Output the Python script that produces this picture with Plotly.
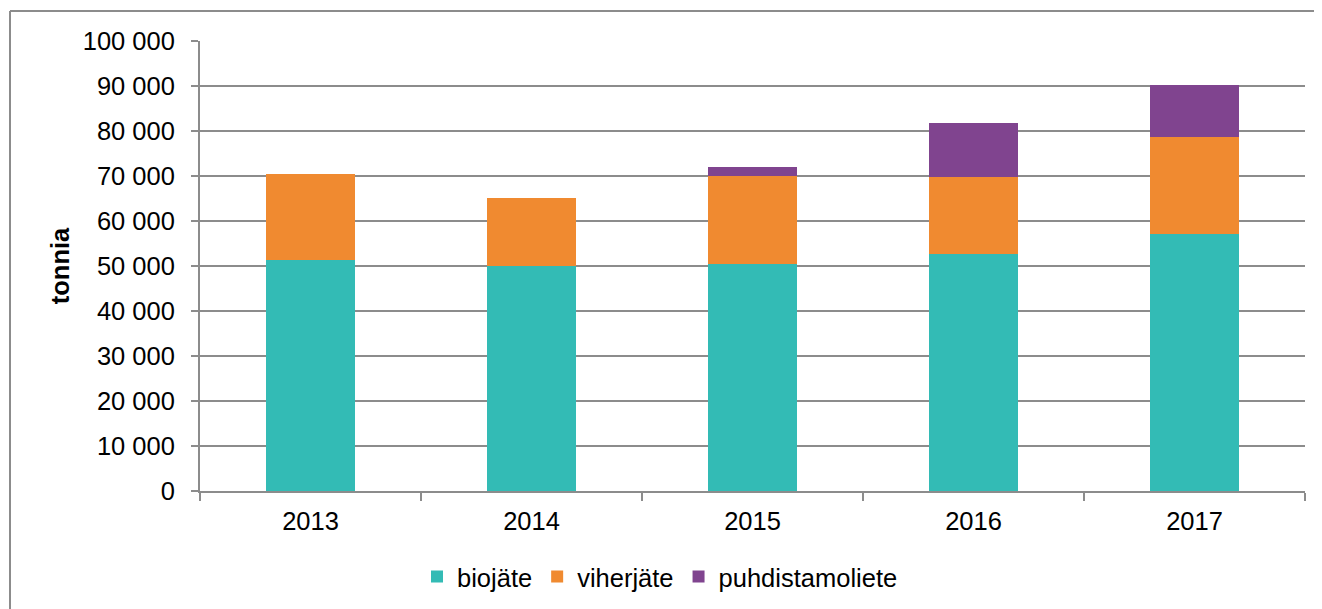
import plotly.graph_objects as go

years = ["2013", "2014", "2015", "2016", "2017"]
biojate = [51300, 50100, 50500, 52700, 57200]
viherjate = [19200, 15000, 19600, 17000, 21500]
puhdistamoliete = [0, 0, 2000, 12100, 11600]

y_ticks = [0, 10000, 20000, 30000, 40000, 50000, 60000, 70000, 80000, 90000, 100000]
y_tick_text = ["0", "10 000", "20 000", "30 000", "40 000", "50 000", "60 000",
               "70 000", "80 000", "90 000", "100 000"]

colors = {"biojäte": "#33BBB5", "viherjäte": "#F08A30", "puhdistamoliete": "#80448F"}

fig = go.Figure()
for name, vals in [("biojäte", biojate), ("viherjäte", viherjate), ("puhdistamoliete", puhdistamoliete)]:
    fig.add_trace(go.Bar(x=years, y=vals, name=name, marker_color=colors[name],
                         marker_line_width=0, width=0.4))

# page body has an 8px margin; screen-space plot area: x 200..1305, y 41..491
OFF = 8
W, H = 1322 - OFF, 609 - OFF
PX0, PX1, PY0, PY1 = 200, 1305, 41, 491
L, T = PX0 - OFF, PY0 - OFF
R = 1322 - PX1
B = 609 - PY1
pw, ph = PX1 - PX0, PY1 - PY0
FS = 25.5

fig.update_layout(
    barmode="stack",
    width=W, height=H,
    margin=dict(l=L, r=R, t=T, b=B, autoexpand=False),
    paper_bgcolor="white", plot_bgcolor="white",
    font=dict(family="Liberation Sans, Arial, sans-serif", size=FS, color="#000000"),
    legend=dict(orientation="h", x=(660 - PX0) / pw, xanchor="center",
                y=(PY1 - 577) / ph, yanchor="middle",
                font=dict(size=FS), itemwidth=30, traceorder="normal"),
    showlegend=True,
)
fig.update_xaxes(
    type="category", tickson="boundaries", ticks="outside", ticklen=8, tickwidth=2,
    tickcolor="#8C8C8C", showline=True, linecolor="#8C8C8C", linewidth=2,
    showgrid=False, tickfont=dict(size=FS), ticklabelstandoff=6,
)
fig.update_yaxes(
    range=[0, 100000], tickmode="array", tickvals=y_ticks, ticktext=y_tick_text,
    ticks="outside", ticklen=7, tickwidth=2, tickcolor="#8C8C8C",
    showline=True, linecolor="#8C8C8C", linewidth=2,
    showgrid=True, gridcolor="#8C8C8C", gridwidth=2, zeroline=False,
    tickfont=dict(size=FS), ticklabelstandoff=11,
    title=dict(text="<b>tonnia</b>", font=dict(size=FS), standoff=6),
)
# outer chart border: only the left and top edges are visible in the reference
border = dict(color="#8C8C8C", width=2)
fig.add_shape(type="line", xref="paper", yref="paper",
              x0=(10 - PX0) / pw, x1=(10 - PX0) / pw,
              y0=(PY1 - 640) / ph, y1=(PY1 - 11) / ph, line=border, layer="below")
fig.add_shape(type="line", xref="paper", yref="paper",
              x0=(10 - PX0) / pw, x1=(1330 - PX0) / pw,
              y0=(PY1 - 11) / ph, y1=(PY1 - 11) / ph, line=border, layer="below")

fig.write_html("out.html")
